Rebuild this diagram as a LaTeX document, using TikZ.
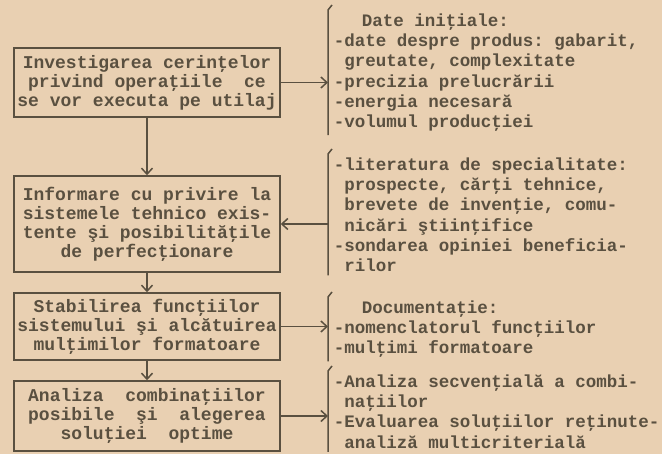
\documentclass[tikz,border=0pt]{standalone}
\usepackage{fontspec}
\setmonofont{Liberation Mono}
\usetikzlibrary{arrows.meta}

\definecolor{paper}{RGB}{233,208,178}
\definecolor{ink}{RGB}{90,80,64}

\tikzset{
  box/.style={draw,minimum width=266pt,align=center,inner sep=0pt,
    font=\ttfamily\bfseries\fontsize{18}{19}\selectfont},
  list/.style={anchor=north west,align=left,inner xsep=5pt,inner ysep=3pt,
    font=\ttfamily\bfseries\fontsize{17.5}{20.2}\selectfont},
  >={Straight Barb[length=6pt,width=11pt]}
}

\begin{document}
\begin{tikzpicture}[x=1pt,y=-1pt,color=ink,line width=1.5pt]

      \fill[paper] (0,0) rectangle (662,454);
      \useasboundingbox (0,0) rectangle (662,454);

      \begin{scope}[every node/.style=box]
        \node[minimum height=69pt] (inv)  at (147,82.5) {Investigarea cerinţelor\\privind operaţiile~ ce\\se vor executa pe utilaj};
        \node[minimum height=96pt] (inf)  at (147,224)  {Informare cu privire la\\sistemele tehnico exis-\\tente şi posibilităţile\\de perfecţionare};
        \node[minimum height=67pt] (stab) at (147,326.5) {Stabilirea funcţiilor\\sistemului şi alcătuirea\\mulţimilor formatoare};
        \node[minimum height=70pt] (anal) at (147,416)  {Analiza~ combinaţiilor\\posibile~ şi~ alegerea\\soluţiei~ optime};
      \end{scope}

      \begin{scope}[every node/.style=list]
        \node (date) at (328,10)  {\hspace*{28pt}Date iniţiale:\\-date despre produs: gabarit,\\~greutate, complexitate\\-precizia prelucrării\\-energia necesară\\-volumul producţiei};
        \node (lit)  at (328,154) {-literatura de specialitate:\\~prospecte, cărţi tehnice,\\~brevete de invenţie, comu-\\~nicări ştiinţifice\\-sondarea opiniei beneficia-\\~rilor};
        \node (doc)  at (328,297) {\hspace*{28pt}Documentaţie:\\-nomenclatorul funcţiilor\\-mulţimi formatoare};
        \node (eval) at (328,371) {-Analiza secvenţială a combi-\\~naţiilor\\-Evaluarea soluţiilor reţinute-\\~analiză multicriterială};
      \end{scope}

      % brackets
      \foreach \n in {date,lit,doc,eval}
        \draw ([shift={(4,-5)}]\n.north west) -- (\n.north west) -- (\n.south west);

      \coordinate (a1) at (inv -| date.west);
      \coordinate (a2) at (inf -| lit.west);
      \coordinate (a3) at (stab -| doc.west);
      \coordinate (a4) at (anal -| eval.west);

      \begin{scope}[every edge/.style={draw,->}]
        \path (inv)  edge (a1);
        \path (a2)   edge (inf);
        \path (stab) edge (a3);
        \path (anal) edge (a4);
        \path (inv)  edge (inf);
        \path (inf)  edge (stab);
        \path (stab) edge (anal);
      \end{scope}

    \end{tikzpicture}
\end{document}
